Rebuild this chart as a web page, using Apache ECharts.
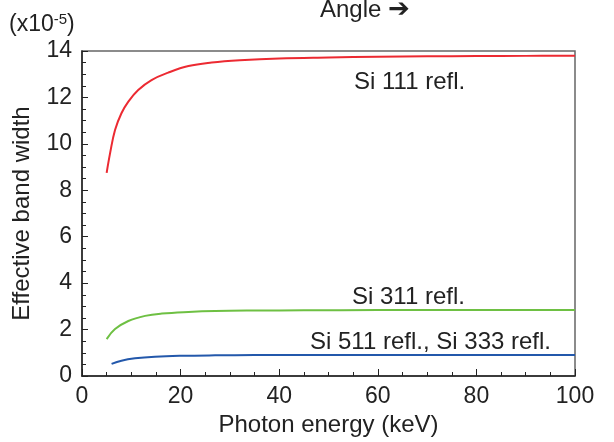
<!DOCTYPE html>
<html>
<head>
<meta charset="utf-8">
<script src="https://cdn.jsdelivr.net/npm/echarts@6/dist/echarts.min.js"></script>
<style>
  html, body { margin: 0; padding: 0; background: #fff; }
  #chart { width: 614px; height: 442px; }
</style>
</head>
<body>
<div id="chart"></div>
<script>
// Effective band width (x1e-5) versus photon energy (keV) for Si reflections
const si111Energy = [5.0, 5.7, 6.7, 8.0, 9.4, 11.4, 14.1, 17.5, 21.6, 26.3, 32, 40, 50, 60, 70, 80, 90, 100];
const si111Width  = [8.75, 9.6, 10.6, 11.32, 11.82, 12.32, 12.75, 13.07, 13.35, 13.5, 13.6, 13.68, 13.72, 13.75, 13.77, 13.78, 13.79, 13.8];

const si311Energy = [5.0, 6.7, 9.4, 12.8, 16.2, 21.6, 27, 35, 45, 60, 80, 100];
const si311Width  = [1.59, 2.02, 2.37, 2.59, 2.69, 2.76, 2.8, 2.82, 2.83, 2.84, 2.84, 2.84];

const si511Energy = [6.0, 8.0, 10.75, 14.8, 20.2, 27, 35, 45, 60, 80, 100];
const si511Width  = [0.52, 0.66, 0.76, 0.83, 0.87, 0.89, 0.9, 0.9, 0.9, 0.9, 0.9];

const xTicks = [0, 20, 40, 60, 80, 100];
const yTicks = [0, 2, 4, 6, 8, 10, 12, 14];

const pairs = (xs, ys) => xs.map((x, i) => [x, ys[i]]);
const font = '"Liberation Sans", Arial, sans-serif';
const ink = '#222';

const chart = echarts.init(document.getElementById('chart'));
chart.setOption({
  animation: false,
  grid: { left: 82, right: 39, top: 51, bottom: 65, show: true, borderColor: '#666', borderWidth: 1.5, backgroundColor: 'transparent' },
  xAxis: {
    type: 'value', min: xTicks[0], max: xTicks[xTicks.length - 1], interval: 20,
    name: 'Photon energy (keV)', nameLocation: 'middle', nameGap: 37,
    nameTextStyle: { fontFamily: font, fontSize: 24, color: ink },
    axisLine: { show: true, lineStyle: { color: ink, width: 1.5 } },
    axisTick: { inside: true, length: 7, lineStyle: { color: ink } },
    minorTick: { show: true, splitNumber: 4, length: 4, lineStyle: { color: ink } },
    splitLine: { show: false },
    axisLabel: { fontFamily: font, fontSize: 23, color: ink, margin: 9 }
  },
  yAxis: {
    type: 'value', min: yTicks[0], max: yTicks[yTicks.length - 1], interval: 2,
    name: 'Effective band width', nameLocation: 'middle', nameGap: 48,
    nameTextStyle: { fontFamily: font, fontSize: 24, color: ink },
    axisLine: { show: true, lineStyle: { color: ink, width: 1.5 } },
    axisTick: { inside: true, length: 6, lineStyle: { color: ink } },
    minorTick: { show: true, splitNumber: 4, length: 4, lineStyle: { color: ink } },
    splitLine: { show: false },
    axisLabel: { fontFamily: font, fontSize: 23, color: ink, margin: 10, padding: [6, 0, 0, 0] }
  },
  series: [
    { type: 'line', data: pairs(si111Energy, si111Width), smooth: 0.4, showSymbol: false,
      lineStyle: { color: '#ec2a32', width: 2 } },
    { type: 'line', data: pairs(si311Energy, si311Width), smooth: 0.4, showSymbol: false,
      lineStyle: { color: '#6ec043', width: 2 } },
    { type: 'line', data: pairs(si511Energy, si511Width), smooth: 0.4, showSymbol: false,
      lineStyle: { color: '#2358ab', width: 2 } }
  ],
  graphic: [
    { type: 'text', left: 320, top: -3, style: {
        text: 'Angle {arr|➔}', font: '24px ' + font, fill: ink,
        rich: { arr: { fontFamily: 'DejaVu Sans', fontSize: 26, fill: ink } }
      } },
    { type: 'text', left: 9, top: 12, style: {
        text: '(x10{sup|-5})', font: '23px ' + font, fill: ink,
        rich: { sup: { fontSize: 15, verticalAlign: 'top', padding: [0, 0, 11, 0], fontFamily: font, fill: ink } }
      } },
    { type: 'text', left: 354, top: 70, style: { text: 'Si 111 refl.', font: '24px ' + font, fill: ink } },
    { type: 'text', left: 352, top: 285, style: { text: 'Si 311 refl.', font: '24px ' + font, fill: ink } },
    { type: 'text', left: 310, top: 330, style: { text: 'Si 511 refl., Si 333 refl.', font: '24px ' + font, fill: ink } }
  ]
});
</script>
</body>
</html>
